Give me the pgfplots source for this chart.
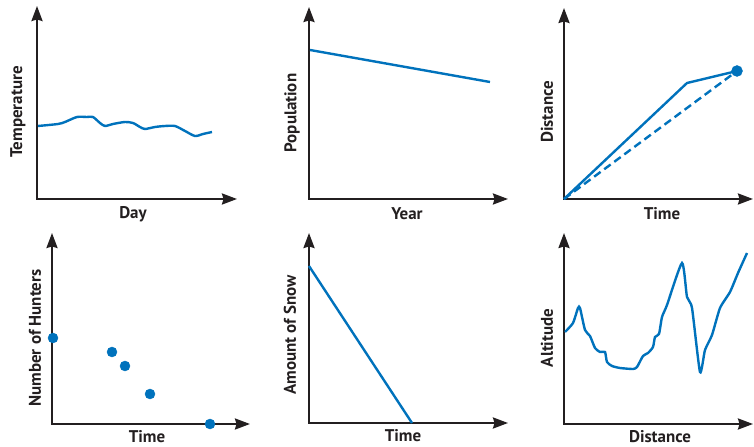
\documentclass[border=0pt]{standalone}
\usepackage{fontspec}
\setmainfont{PT Sans}
\usepackage{pgfplots}
\pgfplotsset{compat=1.18}
\usetikzlibrary{arrows.meta}
\definecolor{blu}{RGB}{0,114,188}
\definecolor{axisc}{RGB}{35,31,32}
\pgfplotsset{
  panel/.style={
    scale only axis, axis lines=left, xmin=0, ymin=0, clip=false,
    xtick=\empty, ytick=\empty, anchor=south west,
    axis line style={line width=2.2bp, color=axisc, line cap=rect,
      -{Stealth[length=15bp,width=11bp,inset=1.5bp]}},
    label style={font=\bfseries\fontsize{17}{20}\selectfont, text=axisc, anchor=center},
  },
  bl/.style={color=blu, line width=2.4bp, mark=none},
}
\begin{document}
\begin{tikzpicture}
\useasboundingbox (0,0) rectangle (754bp,447bp);
% Panel 1: Temperature vs Day
\begin{axis}[panel, at={(37bp,248bp)}, width=200bp, height=193bp, xmax=200, ymax=193,
  xlabel={Day}, ylabel={Temperature},
  xlabel style={at={(axis cs:96,-15)}}, ylabel style={at={(axis cs:-19,87)}}]
\addplot[bl, smooth, tension=0.45] coordinates {(1,73) (21,75) (28,77) (40,82) (50,82) (56,82) (63,76) (68,73) (76,75) (88,77) (96,76) (103,72) (108,70) (118,72) (128,73) (138,73) (148,68) (158,63) (166,65) (175,67)};
\end{axis}
% Panel 2: Population vs Year
\begin{axis}[panel, at={(309bp,248bp)}, width=199bp, height=192bp, xmax=199, ymax=192,
  xlabel={Year}, ylabel={Population},
  xlabel style={at={(axis cs:98,-15)}}, ylabel style={at={(axis cs:-17,86)}}]
\addplot[bl] coordinates {(1,149) (181,117)};
\end{axis}
% Panel 3: Distance vs Time
\begin{axis}[panel, at={(564bp,248bp)}, width=189bp, height=191bp, xmax=189, ymax=191,
  xlabel={Time}, ylabel={Distance},
  xlabel style={at={(axis cs:98,-15)}}, ylabel style={at={(axis cs:-17,87)}}]
\addplot[bl] coordinates {(0,0) (123,116) (173,128)};
\addplot[bl, dash pattern=on 8bp off 4.5bp] coordinates {(0,0) (173,128)};
\addplot[only marks, mark=*, mark size=5.5bp, mark options={draw=blu, fill=blu, solid}] coordinates {(173,128)};
\end{axis}
% Panel 4: Number of Hunters vs Time
\begin{axis}[panel, at={(52bp,23bp)}, width=198bp, height=191bp, xmax=198, ymax=191,
  xlabel={Time}, ylabel={Number of Hunters},
  xlabel style={at={(axis cs:95,-13)}}, ylabel style={at={(axis cs:-17,86)}}]
\addplot[only marks, mark=*, mark size=5bp, mark options={draw=blu, fill=blu}] coordinates {(1,86) (60,72) (73,58) (98,30) (158,0)};
\end{axis}
% Panel 5: Amount of Snow vs Time
\begin{axis}[panel, at={(309bp,24bp)}, width=199bp, height=190bp, xmax=199, ymax=190,
  xlabel={Time}, ylabel={Amount of Snow},
  xlabel style={at={(axis cs:94,-13)}}, ylabel style={at={(axis cs:-19,88)}}]
\addplot[bl] coordinates {(0,157) (103,0)};
\end{axis}
% Panel 6: Altitude vs Distance
\begin{axis}[panel, at={(564bp,23bp)}, width=189bp, height=191bp, xmax=189, ymax=191,
  xlabel={Distance}, ylabel={Altitude},
  xlabel style={at={(axis cs:96,-13)}}, ylabel style={at={(axis cs:-17,86)}}]
\addplot[bl, smooth, tension=0.35] coordinates {(1,92) (9,101) (14,116) (16,116) (21,94) (26,88) (31,76) (36,72) (41,72) (43,62) (48,58) (56,56) (69,55) (73,57) (79,68) (84,71) (89,77) (91,87) (95,90) (98,107) (103,119) (118,161) (123,127) (128,116) (136,52) (141,74) (148,89) (156,116) (166,132) (174,151) (183,171)};
\end{axis}
\end{tikzpicture}
\end{document}
